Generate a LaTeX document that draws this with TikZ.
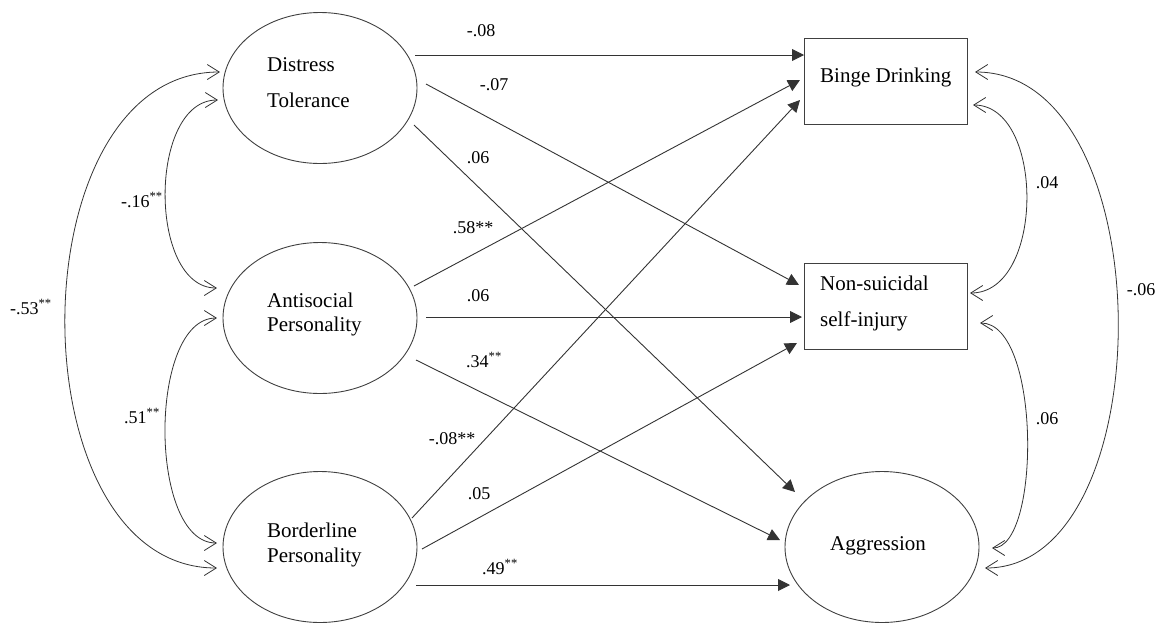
\documentclass[tikz,border=0pt]{standalone}
\usepackage{fontspec}
\setmainfont{Liberation Serif}
\usetikzlibrary{arrows.meta,shapes.geometric}
\begin{document}
\begin{tikzpicture}[x=1pt,y=-1pt,
  lat/.style={draw=black!75, line width=0.9pt, ellipse, minimum width=194pt, minimum height=151pt, inner sep=0pt},
  obs/.style={draw=black!75, line width=0.9pt, rectangle, minimum width=163pt, minimum height=86pt, inner sep=0pt},
  txt/.style={anchor=base west, inner sep=0pt, font=\fontsize{21}{24}\selectfont},
  coef/.style={inner sep=0pt, font=\fontsize{18}{20}\selectfont},
  pth/.style={draw=black!80, line width=0.9pt, -{Triangle[length=12pt,width=12pt]}},
  cov/.style={draw=black!80, line width=0.8pt, {Straight Barb[length=12pt,width=15pt]}-{Straight Barb[length=12pt,width=15pt]}},
]
\useasboundingbox (0,0) rectangle (1165,622);

% latent and observed variables
\node[lat] (dt) at (320,88) {};
\node[lat] (ap) at (320,318) {};
\node[lat] (bp) at (320,547) {};
\node[lat] (ag) at (882,547) {};
\node[obs] (bd) at (885.5,81) {};
\node[obs] (ns) at (885.5,306.5) {};

% texts
\node[txt] (dt1) at (267,71) {Distress};
\node[txt] (dt2) at (267,107) {Tolerance};
\node[txt] (ap1) at (267,307) {Antisocial};
\node[txt] (ap2) at (267,331) {Personality};
\node[txt] (bp1) at (267,537) {Borderline};
\node[txt] (bp2) at (267,562) {Personality};
\node[txt] (ag1) at (830,550) {Aggression};
\node[txt] (bd1) at (820,82) {Binge Drinking};
\node[txt] (ns1) at (820,290) {Non-suicidal};
\node[txt] (ns2) at (820,326) {self-injury};

% regression paths
\draw[pth] ([shift={(95,-33)}]dt.center) -- ([shift={(-81.5,-26)}]bd.center);
\draw[pth] ([shift={(106,-4)}]dt.center) -- ([shift={(-86.5,-21.5)}]ns.center);
\draw[pth] ([shift={(94,37)}]dt.center) -- ([shift={(-87,-55)}]ag.center);
\draw[pth] ([shift={(94,-32)}]ap.center) -- ([shift={(-85.5,-1)}]bd.center);
\draw[pth] ([shift={(106,-1)}]ap.center) -- ([shift={(-83.5,10.5)}]ns.center);
\draw[pth] ([shift={(96,42)}]ap.center) -- ([shift={(-102,-7)}]ag.center);
\draw[pth] ([shift={(92,-29)}]bp.center) -- ([shift={(-85.5,19)}]bd.center);
\draw[pth] ([shift={(102,2)}]bp.center) -- ([shift={(-88.5,36.5)}]ns.center);
\draw[pth] ([shift={(96,38)}]bp.center) -- ([shift={(-92,38)}]ag.center);

% path coefficients
\node[coef] (c1) at (481,31) {-.08};
\node[coef] (c2) at (494,85) {-.07};
\node[coef] (c3) at (478,158) {.06};
\node[coef] (c4) at (473,228) {.58**};
\node[coef] (c5) at (478,296) {.06};
\node[coef] (c6) at (484,360) {.34\textsuperscript{**}};
\node[coef] (c7) at (452,439) {-.08**};
\node[coef] (c8) at (479,494) {.05};
\node[coef] (c9) at (500,567) {.49\textsuperscript{**}};

% covariances (left)
\draw[cov] ([shift={(-102,12)}]dt.center) .. controls +(-70,0) and +(-69,0) .. ([shift={(-103,-30)}]ap.center);
\draw[cov] ([shift={(-103,0)}]ap.center) .. controls +(-69,0) and +(-69,0) .. ([shift={(-103,-4)}]bp.center);
\draw[cov] ([shift={(-100,-16)}]dt.center) .. controls +(-206,0) and +(-203,0) .. ([shift={(-103,21)}]bp.center);
\node[coef] (k1) at (142,200) {-.16\textsuperscript{**}};
\node[coef] (k2) at (142,416) {.51\textsuperscript{**}};
\node[coef] (k3) at (31,307) {-.53\textsuperscript{**}};

% covariances (right)
\draw[cov] ([shift={(87.5,24)}]bd.center) .. controls +(72,0) and +(75,0) .. ([shift={(84.5,-13.5)}]ns.center);
\draw[cov] ([shift={(89.5,-9)}]bd.center) .. controls +(189,0) and +(179,0) .. ([shift={(103,21)}]ag.center);
\draw[cov] ([shift={(94.5,16.5)}]ns.center) .. controls +(61,0) and +(49,0) .. ([shift={(110,1)}]ag.center);
\node[coef] (k4) at (1047,183) {.04};
\node[coef] (k5) at (1141,290) {-.06};
\node[coef] (k6) at (1047,419) {.06};
\end{tikzpicture}
\end{document}
